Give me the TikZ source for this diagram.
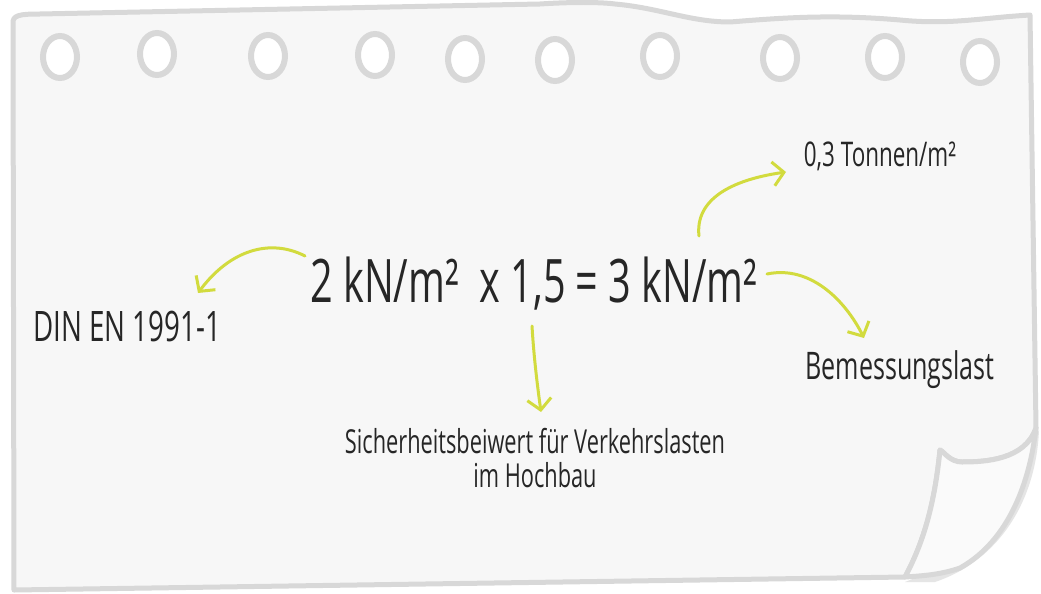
\documentclass[tikz,border=0pt]{standalone}
\usepackage{fontspec}
\newfontfamily\hand{Open Sans}[FakeStretch=0.66]
\usetikzlibrary{arrows.meta}
\definecolor{paper}{HTML}{F7F7F7}
\definecolor{edge}{HTML}{D8D8D8}
\definecolor{lime}{HTML}{D2DB3E}
\tikzset{
  x=1pt, y=-1pt,
  edgeline/.style={draw=edge, line width=5pt, line join=round, line cap=round},
  hole/.style={draw=edge, line width=6pt, fill=white},
  txt/.style={font=\hand, text=black!85, inner sep=0pt, align=center},
  arr/.style={draw=lime, line width=3pt, line cap=round, -{Straight Barb[length=11pt,width=24pt,line width=3pt]}}
}
\begin{document}
\begin{tikzpicture}
\useasboundingbox (0,0) rectangle (1041,594);
\fill[white] (0,0) rectangle (1041,594);
% shadow of curl
\fill[black!10] (1039,430) .. controls (1036,500) and (1000,560) .. (935,582) -- (905,582) -- (960,560) -- cycle;
% paper
\path[edgeline, fill=paper] (13,24) .. controls (12,15) and (20,14) .. (40,14)
  -- (540,4) .. controls (570,2) and (600,2) .. (615,4)
  .. controls (660,8) and (690,22) .. (730,22)
  .. controls (780,18) and (830,14) .. (900,20)
  .. controls (950,25) and (980,18) .. (1030,15)
  -- (1036,428) .. controls (1025,460) and (985,462) .. (962,462)
  .. controls (950,462) and (944,452) .. (940,450)
  .. controls (935,500) and (925,540) .. (905,577)
  -- (14,590) -- cycle;
% flap
\path[edgeline, fill=paper!60!white] (940,450) .. controls (944,452) and (950,462) .. (962,462)
  .. controls (985,462) and (1025,460) .. (1036,428)
  .. controls (1030,480) and (1010,540) .. (960,568)
  .. controls (940,575) and (920,576) .. (905,577)
  .. controls (925,540) and (935,500) .. (940,450) -- cycle;
% holes
\foreach \hx/\hy in {60/57,157/54,268/56,375/55,465/59,555/60,660/56,780/58,885/57,980/62}
  \path[hole] (\hx,\hy) ellipse [x radius=17, y radius=21];
% texts
\node[txt, font=\hand\fontsize{60}{66}\selectfont] (eq) at (534,284) {2\,kN/m² \ x 1,5 = 3\,kN/m²};
\node[txt, font=\hand\fontsize{34}{38}\selectfont] (ton) at (880,156) {0,3 Tonnen/m²};
\node[txt, font=\hand\fontsize{42}{46}\selectfont] (din) at (127,326) {DIN EN 1991-1};
\node[txt, font=\hand\fontsize{38}{42}\selectfont] (bem) at (900,370) {Bemessungslast};
\node[txt, font=\hand\fontsize{33}{34}\selectfont] (sich) at (535,458) {Sicherheitsbeiwert für Verkehrslasten\\im Hochbau};
% connectors
\coordinate (a1s) at (305,256);
\coordinate (a2s) at (699,236);
\coordinate (a3s) at (767,274);
\coordinate (a4s) at (532,326);
\draw[arr] (a1s) .. controls (270,238) and (230,250) .. (198,293);
\draw[arr] (a2s) .. controls (695,200) and (730,180) .. (786,172);
\draw[arr] (a3s) .. controls (810,265) and (845,300) .. (864,338);
\draw[arr] (a4s) .. controls (534,360) and (538,390) .. (541,412);
\end{tikzpicture}
\end{document}
